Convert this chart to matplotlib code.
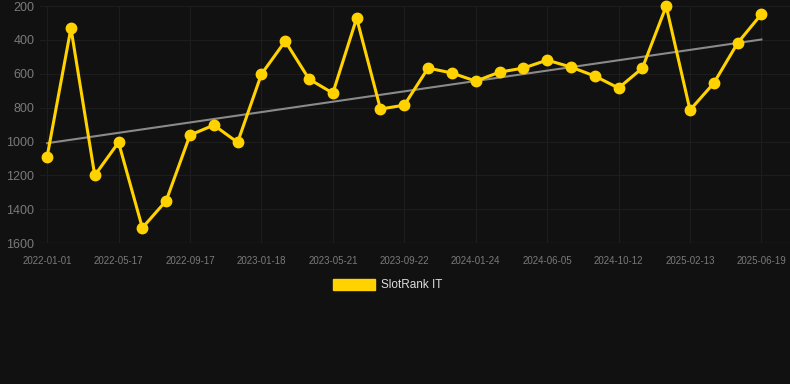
import matplotlib
matplotlib.use("Agg")
import matplotlib.pyplot as plt
import matplotlib.patches as patches
import numpy as np

plt.rcParams['font.family'] = ['Liberation Sans', 'DejaVu Sans']

# rank values (lower = better, axis inverted)
ranks = [1090, 330, 1200, 1005, 1510, 1350, 962, 903, 1005, 602,
         407, 631, 714, 271, 808, 785, 566, 595, 643, 590,
         566, 519, 560, 613, 684, 566, 200, 814, 655, 418, 247]
tick_labels = ['2022-01-01', '2022-05-17', '2022-09-17', '2023-01-18',
               '2023-05-21', '2023-09-22', '2024-01-24', '2024-06-05',
               '2024-10-12', '2025-02-13', '2025-06-19']
series_name = 'SlotRank IT'

bg = '#111111'
gold = '#FFD200'

fig = plt.figure(figsize=(7.9, 3.84), dpi=100, facecolor=bg)
ax = fig.add_axes([0.0506, 0.367, 0.9494, 0.617], facecolor=bg)

x = np.arange(len(ranks))
# linear trend
k, b = np.polyfit(x, ranks, 1)
ax.plot(x, k * x + b, color='#8a8a8a', lw=1.5, zorder=2)

ax.plot(x, ranks, color=gold, lw=2.2, marker='o', ms=7.5, zorder=3, clip_on=False)

ax.set_ylim(1600, 200)
ax.set_yticks(range(200, 1601, 200))
ax.set_xlim(-0.3, len(ranks) - 1 + 1.2)
ax.set_xticks(x[::3])
ax.set_xticklabels(tick_labels)

ax.grid(True, color='#1d1d1d', lw=0.8)
for s in ax.spines.values():
    s.set_visible(False)
ax.axhline(1600, color='#2a2a2a', lw=1, zorder=1)

ax.tick_params(axis='y', length=0, pad=4, labelsize=9, labelcolor='#7a7a7a')
ax.tick_params(axis='x', length=0, pad=9, labelsize=7, labelcolor='#7a7a7a')

# legend
fig.patches.append(patches.Rectangle((333 / 790, 1 - 290 / 384), 42 / 790, 11 / 384,
                                     transform=fig.transFigure, color=gold))
fig.text(381 / 790, 1 - 285 / 384, series_name, color='#dddddd', fontsize=8.5,
         va='center', ha='left')

fig.savefig('out.png', dpi=100, facecolor=bg)
